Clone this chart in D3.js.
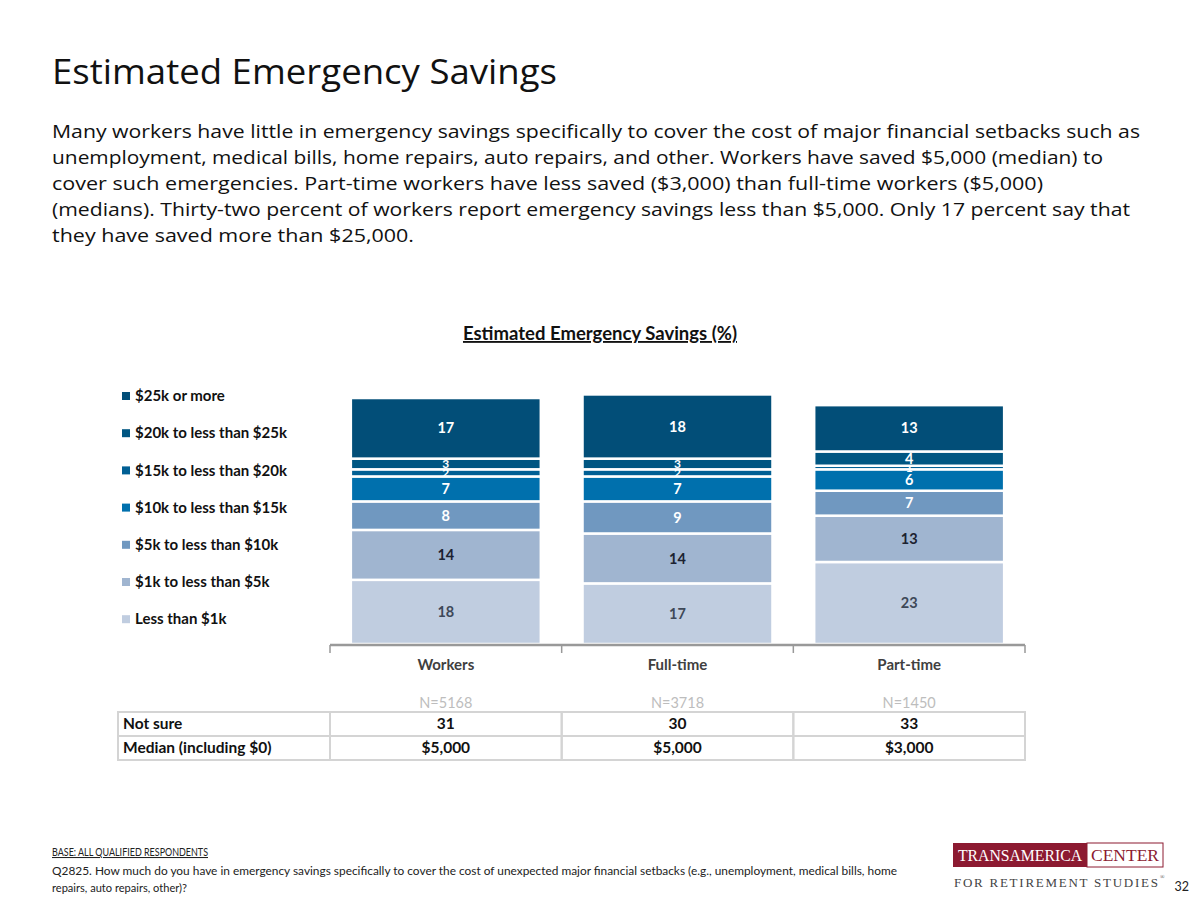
<!DOCTYPE html>
<html>
<head>
<meta charset="utf-8">
<script src="https://cdn.jsdelivr.net/npm/d3@7"></script>
<style>
  body { margin: 0; background: #fff; }
  svg { display: block; }
</style>
</head>
<body>
<div id="chart"></div>
<script>
// chart data
var categories = ["Workers", "Full-time", "Part-time"];
var sampleSizes = ["N=5168", "N=3718", "N=1450"];
var seriesNames = ["Less than $1k", "$1k to less than $5k", "$5k to less than $10k",
  "$10k to less than $15k", "$15k to less than $20k", "$20k to less than $25k", "$25k or more"];
var lessThan1k = [18, 17, 23];
var from1kTo5k = [14, 14, 13];
var from5kTo10k = [8, 9, 7];
var from10kTo15k = [7, 7, 6];
var from15kTo20k = [2, 2, 1];
var from20kTo25k = [3, 3, 4];
var over25k = [17, 18, 13];
var notSure = [31, 30, 33];
var medians = ["$5,000", "$5,000", "$3,000"];

var seriesValues = [lessThan1k, from1kTo5k, from5kTo10k, from10kTo15k, from15kTo20k, from20kTo25k, over25k];
var colors = ["#c0cde0", "#a0b5d0", "#7098c0", "#0070ad", "#005f94", "#005682", "#024e78"];
var labelColors = ["#3e4858", "#1c2230", "#fff", "#fff", "#fff", "#fff", "#fff"];

var width = 1200, height = 900;
var calibri = "Lato, 'Open Sans', sans-serif";

var svg = d3.select("#chart").append("svg")
  .attr("width", width)
  .attr("height", height);

// header
svg.append("text")
  .attr("x", 52).attr("y", 84)
  .attr("font-family", "'Open Sans', sans-serif")
  .attr("font-size", 34)
  .attr("textLength", 505)
  .attr("lengthAdjust", "spacingAndGlyphs")
  .attr("fill", "#111")
  .text("Estimated Emergency Savings");

var intro = [
  ["Many workers have little in emergency savings specifically to cover the cost of major financial setbacks such as", 1088],
  ["unemployment, medical bills, home repairs, auto repairs, and other. Workers have saved $5,000 (median) to", 1051],
  ["cover such emergencies. Part-time workers have less saved ($3,000) than full-time workers ($5,000)", 991],
  ["(medians). Thirty-two percent of workers report emergency savings less than $5,000. Only 17 percent say that", 1078],
  ["they have saved more than $25,000.", 362]
];
svg.append("g").selectAll("text")
  .data(intro)
  .enter().append("text")
  .attr("x", 52)
  .attr("y", (d, i) => 138 + i * 26)
  .attr("font-family", "'Open Sans', sans-serif")
  .attr("font-size", 19)
  .attr("textLength", (d) => d[1])
  .attr("lengthAdjust", "spacingAndGlyphs")
  .attr("fill", "#111")
  .text((d) => d[0]);

// chart title
svg.append("text")
  .attr("x", 600).attr("y", 340)
  .attr("text-anchor", "middle")
  .attr("font-family", calibri)
  .attr("font-weight", "bold")
  .attr("font-size", 18.5)
  .attr("text-decoration", "underline")
  .attr("fill", "#111")
  .text("Estimated Emergency Savings (%)");

// scales
var x = d3.scaleBand()
  .domain(categories)
  .range([330, 1025])
  .paddingInner(0.18)
  .paddingOuter(0.09);

var y = d3.scaleLinear()
  .domain([0, 100])
  .range([644, 287.5]);

var rows = categories.map((c, i) => {
  var r = { category: c };
  seriesNames.forEach((s, k) => { r[s] = seriesValues[k][i]; });
  return r;
});

var stack = d3.stack().keys(seriesNames);
var layers = stack(rows);

var layer = svg.append("g").selectAll(".layer")
  .data(layers)
  .enter().append("g")
  .attr("class", "layer");

layer.selectAll("rect")
  .data((d) => d.map((p) => ({ p: p, key: d.key, index: d.index })))
  .enter().append("rect")
  .attr("x", (d) => x(d.p.data.category))
  .attr("y", (d) => y(d.p[1]))
  .attr("width", x.bandwidth())
  .attr("height", (d) => y(d.p[0]) - y(d.p[1]))
  .attr("fill", (d) => colors[d.index])
  .attr("stroke", "#fff")
  .attr("stroke-width", 2.5);

layer.selectAll("text")
  .data((d) => d.map((p) => ({ p: p, key: d.key, index: d.index })))
  .enter().append("text")
  .attr("x", (d) => x(d.p.data.category) + x.bandwidth() / 2)
  .attr("y", (d) => (y(d.p[0]) + y(d.p[1])) / 2)
  .attr("dy", "0.35em")
  .attr("text-anchor", "middle")
  .attr("font-family", calibri)
  .attr("font-weight", "bold")
  .attr("font-size", (d) => (d.p[1] - d.p[0]) < 4 ? 12 : 14.5)
  .attr("fill", (d) => labelColors[d.index])
  .text((d) => d.p[1] - d.p[0]);

// axis
var axis = svg.append("g")
  .attr("transform", "translate(0,645)")
  .call(d3.axisBottom(x).tickSize(0).tickFormat(""));
axis.select(".domain").attr("stroke", "#999").attr("stroke-width", 2.5)
  .attr("d", "M330,0H1025");
var sepTicks = [330].concat(categories.map((c) => x(c) + x.step() - x.step() * x.paddingInner() / 2));
axis.selectAll(".sep")
  .data(sepTicks)
  .enter().append("line")
  .attr("class", "sep")
  .attr("x1", (d) => d).attr("x2", (d) => d)
  .attr("y1", 0).attr("y2", 8)
  .attr("stroke", "#999")
  .attr("stroke-width", 1.5);

svg.append("g").selectAll("text")
  .data(categories)
  .enter().append("text")
  .attr("x", (d) => x(d) + x.bandwidth() / 2)
  .attr("y", 670)
  .attr("text-anchor", "middle")
  .attr("font-family", calibri)
  .attr("font-weight", "bold")
  .attr("font-size", 15)
  .attr("fill", "#404040")
  .text((d) => d);

svg.append("g").selectAll("text")
  .data(sampleSizes)
  .enter().append("text")
  .attr("x", (d, i) => x(categories[i]) + x.bandwidth() / 2)
  .attr("y", 708)
  .attr("text-anchor", "middle")
  .attr("font-family", calibri)
  .attr("font-size", 14.5)
  .attr("fill", "#bdbdbd")
  .text((d) => d);

// legend
var legend = svg.append("g").selectAll("g")
  .data(seriesNames.slice().reverse())
  .enter().append("g")
  .attr("transform", (d, i) => "translate(122," + (396 + i * 37.2) + ")");
legend.append("rect")
  .attr("x", 0).attr("y", -4)
  .attr("width", 8).attr("height", 8)
  .attr("fill", (d) => colors[seriesNames.indexOf(d)]);
legend.append("text")
  .attr("x", 13).attr("dy", "0.35em")
  .attr("font-family", calibri)
  .attr("font-weight", "bold")
  .attr("font-size", 15)
  .attr("fill", "#111")
  .text((d) => d);

// table under the chart
var colEdges = [118, 330].concat(categories.map((c) => x(c) + x.step() - x.step() * x.paddingInner() / 2));
var tableRows = [["Not sure"].concat(notSure), ["Median (including $0)"].concat(medians)];
var table = svg.append("g");
tableRows.forEach((r, ri) => {
  var top = 712 + ri * 24;
  r.forEach((v, ci) => {
    table.append("rect")
      .attr("x", colEdges[ci]).attr("y", top)
      .attr("width", colEdges[ci + 1] - colEdges[ci]).attr("height", 24)
      .attr("fill", "none")
      .attr("stroke", "#d4d4d4")
      .attr("stroke-width", 2);
    table.append("text")
      .attr("x", ci === 0 ? colEdges[0] + 5 : (colEdges[ci] + colEdges[ci + 1]) / 2)
      .attr("y", top + 12)
      .attr("dy", "0.35em")
      .attr("text-anchor", ci === 0 ? "start" : "middle")
      .attr("font-family", calibri)
      .attr("font-weight", "bold")
      .attr("font-size", 15.5)
      .attr("fill", "#111")
      .text(v);
  });
});

// footer
svg.append("text")
  .attr("x", 52).attr("y", 856)
  .attr("font-family", calibri)
  .attr("font-size", 10.5)
  .attr("text-decoration", "underline")
  .attr("textLength", 156)
  .attr("lengthAdjust", "spacingAndGlyphs")
  .attr("fill", "#222")
  .text("BASE: ALL QUALIFIED RESPONDENTS");
svg.append("text")
  .attr("x", 52).attr("y", 875)
  .attr("font-family", calibri)
  .attr("font-size", 10.5)
  .attr("textLength", 845)
  .attr("lengthAdjust", "spacingAndGlyphs")
  .attr("fill", "#222")
  .text("Q2825. How much do you have in emergency savings specifically to cover the cost of unexpected major financial setbacks (e.g., unemployment, medical bills, home");
svg.append("text")
  .attr("x", 52).attr("y", 892)
  .attr("font-family", calibri)
  .attr("font-size", 10.5)
  .attr("textLength", 135)
  .attr("lengthAdjust", "spacingAndGlyphs")
  .attr("fill", "#222")
  .text("repairs, auto repairs, other)?");

// logo
var logo = svg.append("g");
logo.append("rect").attr("x", 953).attr("y", 843).attr("width", 134).attr("height", 24).attr("fill", "#8c1a31");
logo.append("rect").attr("x", 1087).attr("y", 843).attr("width", 76).attr("height", 24)
  .attr("fill", "#fff").attr("stroke", "#8c1a31").attr("stroke-width", 1);
logo.append("text").attr("x", 1020).attr("y", 861).attr("text-anchor", "middle")
  .attr("font-family", "'Liberation Serif', serif").attr("font-size", 17)
  .attr("textLength", 124).attr("lengthAdjust", "spacingAndGlyphs")
  .attr("fill", "#fff").text("TRANSAMERICA");
logo.append("text").attr("x", 1125).attr("y", 861).attr("text-anchor", "middle")
  .attr("font-family", "'Liberation Serif', serif").attr("font-size", 17)
  .attr("textLength", 68).attr("lengthAdjust", "spacingAndGlyphs")
  .attr("fill", "#8c1a31").text("CENTER");
logo.append("text").attr("x", 954).attr("y", 887)
  .attr("font-family", "'Liberation Serif', serif").attr("font-size", 13)
  .attr("textLength", 204).attr("lengthAdjust", "spacing")
  .attr("fill", "#444").text("FOR RETIREMENT STUDIES");
logo.append("text").attr("x", 1160).attr("y", 879)
  .attr("font-family", "'Liberation Serif', serif").attr("font-size", 6)
  .attr("fill", "#444").text("®");

svg.append("text")
  .attr("x", 1189).attr("y", 891)
  .attr("text-anchor", "end")
  .attr("font-family", calibri)
  .attr("font-size", 12.5)
  .attr("fill", "#222")
  .text("32");
</script>
</body>
</html>
